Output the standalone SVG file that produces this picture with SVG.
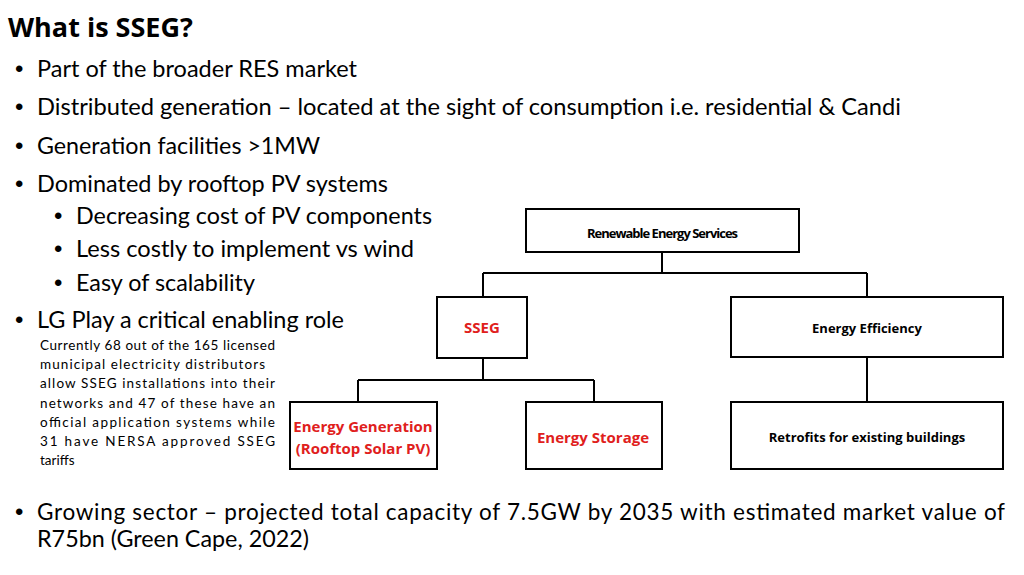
<svg xmlns="http://www.w3.org/2000/svg" width="1024" height="575" viewBox="0 0 1024 575">
<style>
.t{font-family:Lato,"Open Sans",sans-serif;font-size:22.5px;fill:#000}
.d{font-family:"Liberation Sans",sans-serif;font-size:24px}
.p{font-family:Lato,"Open Sans",sans-serif;font-size:13.5px;fill:#000}
.b{fill:#fff;stroke:#000;stroke-width:2}
.l{font-family:"Open Sans",sans-serif;font-weight:bold;font-size:13px;text-anchor:middle;fill:#000}
.r{fill:#e0201c;font-size:15px}
</style>
<rect width="1024" height="575" fill="#fff"/>
<text x="8" y="37" font-family="'Open Sans',sans-serif" font-weight="bold" font-size="27">What is SSEG?</text>
<g class="t">
<text class="d" x="15" y="77">•</text><text x="37" y="77" textLength="320" lengthAdjust="spacingAndGlyphs">Part of the broader RES market</text>
<text class="d" x="15" y="115">•</text><text x="37" y="115" textLength="864" lengthAdjust="spacingAndGlyphs">Distributed generation – located at the sight of consumption i.e. residential &amp; Candi</text>
<text class="d" x="15" y="154">•</text><text x="37" y="154" textLength="283" lengthAdjust="spacingAndGlyphs">Generation facilities &gt;1MW</text>
<text class="d" x="15" y="192">•</text><text x="37" y="192" textLength="351" lengthAdjust="spacingAndGlyphs">Dominated by rooftop PV systems</text>
<text class="d" x="54" y="224">•</text><text x="76" y="224" textLength="356" lengthAdjust="spacingAndGlyphs">Decreasing cost of PV components</text>
<text class="d" x="54" y="257">•</text><text x="76" y="257" textLength="338" lengthAdjust="spacingAndGlyphs">Less costly to implement vs wind</text>
<text class="d" x="54" y="291">•</text><text x="76" y="291" textLength="179" lengthAdjust="spacingAndGlyphs">Easy of scalability</text>
<text class="d" x="15" y="328">•</text><text x="37" y="328" textLength="307" lengthAdjust="spacingAndGlyphs">LG Play a critical enabling role</text>
<text class="d" x="15" y="520">•</text><text x="37" y="520" textLength="968" lengthAdjust="spacing">Growing sector – projected total capacity of 7.5GW by 2035 with estimated market value of</text>
<text x="37" y="547" textLength="272" lengthAdjust="spacingAndGlyphs">R75bn (Green Cape, 2022)</text>
</g>
<g class="p">
<text x="40" y="350" textLength="235" lengthAdjust="spacing">Currently 68 out of the 165 licensed</text>
<text x="40" y="369" textLength="225" lengthAdjust="spacing">municipal  electricity  distributors</text>
<text x="40" y="388" textLength="235" lengthAdjust="spacing">allow SSEG installations into their</text>
<text x="40" y="408" textLength="235" lengthAdjust="spacing">networks  and 47 of these have an</text>
<text x="40" y="427" textLength="235" lengthAdjust="spacing">official application systems  while</text>
<text x="40" y="446" textLength="235" lengthAdjust="spacing">31 have NERSA approved SSEG</text>
<text x="40" y="465">tariffs</text>
</g>
<g id="connectors" fill="none" stroke="#000" stroke-width="2">
<path d="M662 252V273M483 273H867M483 273V297M867 273V297"/>
<path d="M483 358V380M358 380H594M358 380V402M594 380V402"/>
<path d="M867 357V402"/>
</g>
<g id="res"><rect class="b" x="526" y="209" width="273" height="43"/><text class="l" x="662" y="238" letter-spacing="-1">Renewable Energy Services</text></g>
<g id="sseg"><rect class="b" x="437" y="297" width="90" height="61"/><text class="l r" x="482" y="333">SSEG</text></g>
<g id="ee"><rect class="b" x="731" y="297" width="272" height="60"/><text class="l" x="867" y="333">Energy Efficiency</text></g>
<g id="eg"><rect class="b" x="290" y="402" width="147" height="67"/><text class="l r" x="363" y="432">Energy Generation</text><text class="l r" x="363" y="454">(Rooftop Solar PV)</text></g>
<g id="es"><rect class="b" x="526" y="402" width="136" height="67"/><text class="l r" x="593" y="443">Energy Storage</text></g>
<g id="rf"><rect class="b" x="731" y="402" width="272" height="67"/><text class="l" x="867" y="442">Retrofits for existing buildings</text></g>
</svg>
